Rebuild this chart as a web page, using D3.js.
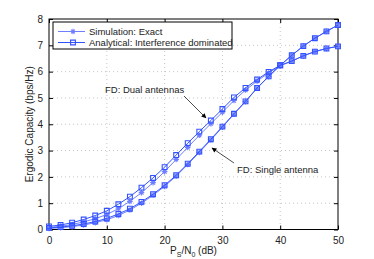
<!DOCTYPE html>
<html>
<head>
<meta charset="utf-8">
<script src="https://cdn.jsdelivr.net/npm/d3@7"></script>
<style>
  html, body { margin: 0; padding: 0; background: #fff; }
  #chart { width: 374px; height: 259px; }
  text { font-family: "Liberation Sans", Arial, Helvetica, sans-serif; }
</style>
</head>
<body>
<div id="chart"></div>
<script>
// Ergodic capacity vs P_S/N_0
(function () {
  ///////////////////////////////////////////////////////////// ! Data
  const snrDb = [0, 2, 4, 6, 8, 10, 12, 14, 16, 18, 20, 22, 24, 26, 28, 30, 32, 34, 36, 38, 40, 42, 44, 46, 48, 50];

  const dualAnalytical = [0.12, 0.17, 0.26, 0.38, 0.53, 0.71, 0.96, 1.25, 1.59, 1.96, 2.37, 2.83, 3.28, 3.72, 4.14, 4.58, 5.02, 5.38, 5.70, 5.99, 6.24, 6.40, 6.60, 6.76, 6.88, 6.96];
  const dualSim = [0.08, 0.12, 0.19, 0.29, 0.41, 0.57, 0.79, 1.07, 1.40, 1.78, 2.20, 2.66, 3.12, 3.58, 4.02, 4.46, 4.90, 5.30, 5.64, 5.95, 6.22, 6.40, 6.60, 6.76, 6.88, 6.96];
  const singleAnalytical = [0.06, 0.09, 0.14, 0.21, 0.30, 0.42, 0.59, 0.79, 1.05, 1.34, 1.68, 2.06, 2.50, 2.96, 3.43, 3.91, 4.40, 4.87, 5.38, 5.82, 6.24, 6.62, 6.97, 7.27, 7.53, 7.77];
  const singleSim = [0.04, 0.07, 0.11, 0.17, 0.26, 0.37, 0.53, 0.74, 1.00, 1.30, 1.64, 2.03, 2.47, 2.93, 3.40, 3.89, 4.38, 4.86, 5.37, 5.81, 6.23, 6.62, 6.97, 7.27, 7.53, 7.77];

  const xTicks = [0, 10, 20, 30, 40, 50];
  const yTicks = [0, 1, 2, 3, 4, 5, 6, 7, 8];
  const legendLabels = ["Simulation: Exact", "Analytical: Interference dominated"];

  ///////////////////////////////////////////////////////////// ! Setup
  const fullWidth = 374;
  const fullHeight = 259;
  const margin = { top: 19, right: 36, bottom: 29.5, left: 49 };
  const width = fullWidth - margin.left - margin.right;
  const height = fullHeight - margin.top - margin.bottom;

  const simColor = "#6f7fff";
  const anaColor = "#3352ff";

  const svg = d3
    .select("#chart")
    .append("svg")
    .attr("width", fullWidth)
    .attr("height", fullHeight)
    .append("g")
    .attr("transform", `translate(${margin.left},${margin.top})`);

  const xScale = d3.scaleLinear().domain([0, 50]).range([0, width]);
  const yScale = d3.scaleLinear().domain([0, 8]).range([height, 0]);

  ///////////////////////////////////////////////////////////// ! Grid
  svg
    .append("g")
    .selectAll("line")
    .data(xTicks.slice(1, -1))
    .enter()
    .append("line")
    .attr("x1", (d) => xScale(d))
    .attr("x2", (d) => xScale(d))
    .attr("y1", 0)
    .attr("y2", height)
    .style("stroke", "#b8b8b8")
    .style("stroke-width", 0.8)
    .style("stroke-dasharray", "1,3");

  svg
    .append("g")
    .selectAll("line")
    .data(yTicks.slice(1, -1))
    .enter()
    .append("line")
    .attr("x1", 0)
    .attr("x2", width)
    .attr("y1", (d) => yScale(d))
    .attr("y2", (d) => yScale(d))
    .style("stroke", "#b8b8b8")
    .style("stroke-width", 0.8)
    .style("stroke-dasharray", "1,3");

  ///////////////////////////////////////////////////////////// ! Axes
  const styleAxis = (g) => {
    g.select(".domain").remove();
    g.selectAll("line").style("stroke", "#000");
    g.selectAll("text")
      .style("font-size", "10px")
      .style("fill", "#222");
  };

  svg
    .append("g")
    .attr("transform", `translate(0,${height})`)
    .call(d3.axisBottom(xScale).tickValues(xTicks).tickSize(-4).tickPadding(7))
    .call(styleAxis);

  svg
    .append("g")
    .call(d3.axisTop(xScale).tickValues(xTicks).tickSize(-4).tickFormat(""))
    .call(styleAxis);

  svg
    .append("g")
    .call(d3.axisLeft(yScale).tickValues(yTicks).tickSize(-4).tickPadding(6))
    .call(styleAxis);

  svg
    .append("g")
    .attr("transform", `translate(${width},0)`)
    .call(d3.axisRight(yScale).tickValues(yTicks).tickSize(-4).tickFormat(""))
    .call(styleAxis);

  // Frame
  svg
    .append("rect")
    .attr("width", width)
    .attr("height", height)
    .style("fill", "none")
    .style("stroke", "#000")
    .style("stroke-width", 1);

  // Axis labels
  const xLabel = svg
    .append("text")
    .attr("x", width / 2)
    .attr("y", height + 24)
    .style("text-anchor", "middle")
    .style("font-size", "10px")
    .style("fill", "#222");
  xLabel.append("tspan").text("P");
  xLabel.append("tspan").attr("dy", 3).style("font-size", "7px").text("S");
  xLabel.append("tspan").attr("dy", -3).text("/N");
  xLabel.append("tspan").attr("dy", 3).style("font-size", "7px").text("0");
  xLabel.append("tspan").attr("dy", -3).text(" (dB)");

  svg
    .append("text")
    .attr("transform", "rotate(-90)")
    .attr("x", -height / 2)
    .attr("y", -16)
    .style("text-anchor", "middle")
    .style("font-size", "10px")
    .style("fill", "#222")
    .text("Ergodic Capacity (bps/Hz)");

  ///////////////////////////////////////////////////////////// ! Curves
  const line = d3
    .line()
    .x((d) => xScale(d.x))
    .y((d) => yScale(d.y));

  const starPath = (r) =>
    `M${-r},0L${r},0M0,${-r}L0,${r}` +
    `M${-r * 0.7},${-r * 0.7}L${r * 0.7},${r * 0.7}M${-r * 0.7},${r * 0.7}L${r * 0.7},${-r * 0.7}`;
  const squarePath = (r) => `M${-r},${-r}H${r}V${r}H${-r}Z`;

  const series = [
    { values: dualSim, color: simColor, marker: "star" },
    { values: singleSim, color: simColor, marker: "star" },
    { values: dualAnalytical, color: anaColor, marker: "square" },
    { values: singleAnalytical, color: anaColor, marker: "square" },
  ];

  series.forEach((s) => {
    const pts = snrDb.map((x, i) => ({ x: x, y: s.values[i] }));

    svg
      .append("path")
      .datum(pts)
      .attr("d", line)
      .style("fill", "none")
      .style("stroke", s.color)
      .style("stroke-width", 1);

    svg
      .append("g")
      .selectAll("path")
      .data(pts)
      .enter()
      .append("path")
      .attr("transform", (d) => `translate(${xScale(d.x)},${yScale(d.y)})`)
      .attr("d", s.marker === "star" ? starPath(2.8) : squarePath(2.4))
      .style("fill", "none")
      .style("stroke", s.color)
      .style("stroke-width", 1.1);
  });

  ///////////////////////////////////////////////////////////// ! Legend
  const legend = svg.append("g").attr("transform", "translate(4,3)");

  legend
    .append("rect")
    .attr("width", 179)
    .attr("height", 27)
    .style("fill", "#fff")
    .style("stroke", "#000")
    .style("stroke-width", 1);

  [
    { label: legendLabels[0], color: simColor, marker: "star" },
    { label: legendLabels[1], color: anaColor, marker: "square" },
  ].forEach((item, i) => {
    const yRow = 9.5 + i * 11;
    legend
      .append("line")
      .attr("x1", 5)
      .attr("x2", 32)
      .attr("y1", yRow)
      .attr("y2", yRow)
      .style("stroke", item.color)
      .style("stroke-width", 1);
    legend
      .append("path")
      .attr("transform", `translate(20,${yRow})`)
      .attr("d", item.marker === "star" ? starPath(2.8) : squarePath(2.4))
      .style("fill", "none")
      .style("stroke", item.color)
      .style("stroke-width", 1.1);
    legend
      .append("text")
      .attr("x", 36)
      .attr("y", yRow + 3.5)
      .style("font-size", "9.5px")
      .style("fill", "#222")
      .text(item.label);
  });

  ///////////////////////////////////////////////////////////// ! Annotations
  const defs = svg.append("defs");
  defs
    .append("marker")
    .attr("id", "arrowhead")
    .attr("viewBox", "0 0 10 10")
    .attr("refX", 9)
    .attr("refY", 5)
    .attr("markerWidth", 9)
    .attr("markerHeight", 7)
    .attr("orient", "auto")
    .append("path")
    .attr("d", "M0,0L10,5L0,10Z")
    .style("fill", "#000");

  const annotations = [
    { text: "FD: Dual antennas", tx: 56, ty: 74, from: [135, 77], to: [157, 99] },
    { text: "FD: Single antenna", tx: 188, ty: 154, from: [185, 144], to: [163, 129] },
  ];

  annotations.forEach((a) => {
    svg
      .append("text")
      .attr("x", a.tx)
      .attr("y", a.ty)
      .style("font-size", "9.5px")
      .style("fill", "#222")
      .text(a.text);
    svg
      .append("line")
      .attr("x1", a.from[0])
      .attr("y1", a.from[1])
      .attr("x2", a.to[0])
      .attr("y2", a.to[1])
      .attr("marker-end", "url(#arrowhead)")
      .style("stroke", "#000")
      .style("stroke-width", 0.7);
  });
})();
</script>
</body>
</html>
